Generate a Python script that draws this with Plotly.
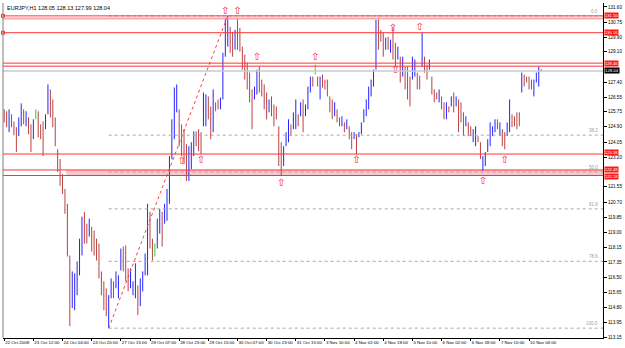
import plotly.graph_objects as go

# ---------------- data ----------------
HIGH = [125.88, 125.77, 125.88, 125.60, 125.21, 124.88, 125.43, 126.21, 125.88, 125.77,
        125.43, 125.04, 125.32, 125.88, 125.77, 125.04, 125.21, 125.60, 127.27, 126.99,
        126.43, 125.43, 123.65, 123.10, 122.27, 121.43, 120.60, 117.71, 116.82, 116.71,
        117.38, 118.65, 119.88, 120.15, 119.49, 119.77, 119.32, 119.10, 118.65, 118.38,
        116.82, 116.27, 115.88, 115.49, 116.43, 116.27, 116.82, 116.60, 118.10, 118.21,
        118.27, 116.99, 116.99, 116.27, 117.27, 116.04, 116.43, 116.82, 117.82, 120.60,
        120.15, 118.65, 118.38, 119.77, 120.32, 120.15, 120.60, 121.43, 123.27, 125.32,
        127.10, 127.27, 125.88, 125.04, 124.77, 123.93, 123.82, 124.04, 124.65, 124.65,
        124.77, 124.60, 126.82, 126.71, 126.60, 126.04, 126.99, 126.27, 126.43, 126.54,
        129.04, 130.99, 131.10, 130.49, 130.21, 130.32, 130.99, 130.43, 129.38, 128.93,
        128.49, 127.93, 126.99, 127.15, 128.10, 128.27, 127.54, 127.27, 126.82, 126.43,
        126.60, 126.15, 126.04, 124.93, 124.04, 123.82, 124.60, 125.32, 125.04, 125.71,
        126.43, 125.60, 126.27, 126.43, 126.15, 127.15, 127.71, 127.71, 128.38, 127.71,
        127.71, 127.82, 127.54, 127.54, 126.60, 126.43, 126.27, 125.88, 125.43, 125.49,
        125.15, 125.32, 124.93, 124.60, 124.60, 124.49, 124.60, 125.15, 125.88, 126.43,
        127.15, 127.54, 128.10, 130.88, 130.99, 130.32, 130.16, 129.88, 129.93, 129.77,
        130.49, 129.60, 129.38, 128.82, 128.82, 128.27, 128.27, 127.71, 128.82, 128.66,
        127.93, 127.76, 130.16, 128.82, 128.38, 128.66, 127.71, 126.99, 126.82, 126.99,
        126.60, 126.27, 126.27, 126.04, 126.60, 126.82, 126.60, 126.43, 126.27, 125.71,
        125.49, 125.15, 124.93, 124.77, 124.93, 124.38, 124.04, 123.27, 123.49, 124.21,
        125.15, 124.93, 125.32, 125.32, 125.15, 124.77, 124.60, 125.15, 126.43, 125.60,
        125.49, 125.71, 125.71, 127.93, 127.82, 127.71, 127.71, 127.54, 127.54, 127.93,
        128.27, 128.13]

LOW = [125.15, 124.88, 124.60, 124.88, 124.43, 123.49, 124.38, 124.93, 125.04, 124.93,
       124.49, 123.49, 124.21, 125.32, 124.32, 124.21, 123.27, 124.77, 125.60, 125.43,
       124.88, 123.82, 122.38, 121.60, 121.15, 120.04, 117.65, 113.77, 114.77, 114.65,
       115.49, 116.60, 117.71, 118.38, 118.38, 118.77, 117.93, 117.71, 117.43, 116.43,
       115.49, 114.65, 114.32, 113.65, 115.32, 115.32, 115.88, 115.32, 116.88, 116.82,
       116.27, 115.71, 115.88, 115.49, 115.32, 114.38, 114.88, 115.71, 116.60, 116.60,
       118.10, 117.43, 117.65, 118.10, 118.93, 118.21, 119.49, 119.65, 120.60, 123.10,
       124.21, 125.71, 123.82, 123.27, 122.82, 121.88, 121.88, 122.54, 123.27, 123.82,
       123.54, 123.38, 124.93, 124.93, 125.32, 124.21, 124.60, 125.77, 125.88, 125.88,
       126.43, 128.82, 129.38, 129.04, 128.82, 129.21, 129.21, 129.10, 128.10, 127.54,
       126.99, 126.27, 124.77, 126.43, 126.71, 126.82, 126.60, 125.88, 125.32, 125.71,
       125.49, 124.93, 125.32, 122.71, 122.15, 122.71, 123.82, 124.04, 124.38, 124.77,
       124.77, 124.93, 125.49, 124.60, 125.49, 125.88, 126.82, 127.15, 127.82, 127.15,
       126.43, 127.10, 126.99, 126.60, 125.71, 125.32, 125.49, 125.15, 124.93, 124.93,
       124.60, 124.77, 124.21, 123.65, 124.21, 123.38, 124.32, 124.49, 125.15, 125.49,
       125.88, 126.60, 127.15, 128.10, 129.21, 129.66, 128.82, 129.21, 129.21, 129.04,
       128.66, 128.27, 128.66, 127.38, 127.71, 126.99, 126.43, 126.04, 127.54, 127.71,
       126.99, 126.99, 128.27, 127.93, 127.54, 128.10, 126.71, 126.27, 126.43, 126.27,
       125.88, 125.32, 125.32, 125.71, 126.04, 125.71, 126.04, 124.60, 125.15, 124.38,
       124.93, 124.38, 124.38, 124.04, 123.82, 124.04, 123.10, 122.43, 122.71, 123.49,
       123.82, 124.38, 124.60, 124.77, 124.38, 123.82, 123.65, 124.38, 124.60, 124.88,
       124.93, 124.77, 124.93, 126.82, 127.15, 127.38, 126.99, 126.99, 126.60, 127.38,
       127.15, 127.99]

# bar colour as seen: u = blue (up), d = red (down), g = green
DIR = ("d d u d d d u u d u d d u g d d d u u d "
       "d d d d d d d d u u u u u d d u d d d d "
       "d d d u u d u u u d d d u u u d u u u u "
       "d d g u u d u u u u u u d d d d u u u d "
       "d d u u d d u d d u u u u d d u d d d d "
       "d d d u u d d d d u d d d d d u u u d u "
       "u d u d u u u d g d u d d d d d u d d u "
       "d u d d u d u u u u u u u u d d d u d u "
       "d d u d u d d d u u d d u d d u d d d u "
       "d d u d u d u d d d u d d u u d d u u u "
       "u u u d u d d u u d d d d u d d d d u u "
       "u d").split()

XTICK_IDX = [0, 12, 24, 36, 48, 60, 72, 84, 96, 108, 120, 132, 144, 156, 168, 180, 192, 204, 216]
XTICK_TEXT = ["22 Oct 2008", "23 Oct 12:00", "24 Oct 04:00", "24 Oct 20:00", "27 Oct 15:00",
              "28 Oct 07:00", "28 Oct 23:00", "29 Oct 15:00", "30 Oct 07:00", "30 Oct 23:00",
              "31 Oct 15:00", "3 Nov 10:00", "4 Nov 02:00", "4 Nov 18:00", "5 Nov 10:00",
              "6 Nov 02:00", "6 Nov 18:00", "7 Nov 10:00", "10 Nov 04:00"]
# visible price labels (those hidden behind the level boxes are left out)
YTICK_VALS = [131.60, 130.75, 129.90, 129.10, 127.40, 126.55, 125.75, 124.90, 124.05, 123.20,
              121.55, 120.70, 119.85, 119.00, 118.15, 117.35, 116.50, 115.65, 114.80,
              113.95, 113.15]

RED_LEVELS = [131.10, 130.16, 128.46, 128.29, 123.38, 122.49, 122.18]
RED_LABEL_LEVELS = [131.10, 130.16, 128.46, 123.38, 122.49, 122.18]
BID = 128.04
TITLE = "EURJPY,H1 128.05 128.13 127.99 128.04"

FIB_LOW_IDX, FIB_LOW = 43, 113.65
FIB_HIGH_IDX, FIB_HIGH = 92, 131.10
FIB_LEVELS = [0.0, 38.2, 50.0, 61.8, 78.6, 100.0]
ZONE_START_IDX = 25.5

ARROW_IDX = [73, 81, 91, 96, 104, 114, 128, 145, 160, 161, 171, 197, 206]
ARROW_PRICE = [122.99, 123.04, 131.32, 131.32, 128.77, 121.71, 128.77, 123.04,
               130.38, 128.04, 130.43, 121.82, 123.04]

# ---------------- figure ----------------
XMIN = -0.5
XMAX = XMIN + 605 / 2.45
YMIN, YMAX = 113.10, 131.82
FONT = "Liberation Sans"

COLORS = {"u": "#2323ff", "d": "#bb4040", "g": "#22dd22"}

fig = go.Figure()
for key, col in COLORS.items():
    xs, ys = [], []
    for i, (h, l, d) in enumerate(zip(HIGH, LOW, DIR)):
        if d == key:
            xs += [i, i, None]
            ys += [l, h, None]
    fig.add_trace(go.Scatter(x=xs, y=ys, mode="lines", line=dict(color=col, width=1),
                             hoverinfo="skip", showlegend=False))

shapes = []
shapes.append(dict(type="rect", xref="x", yref="y", x0=ZONE_START_IDX, x1=XMAX,
                   y0=RED_LEVELS[6], y1=RED_LEVELS[5], fillcolor="#f8c6ce",
                   line=dict(width=0), layer="below"))
shapes.append(dict(type="line", xref="paper", yref="y", x0=0, x1=1,
                   y0=RED_LEVELS[0] - 0.14, y1=RED_LEVELS[0] - 0.14,
                   line=dict(color="#f7a8b2", width=2)))
rng = FIB_HIGH - FIB_LOW
for lv in FIB_LEVELS:
    p = FIB_HIGH - rng * lv / 100.0
    shapes.append(dict(type="line", xref="x", yref="y", x0=FIB_LOW_IDX, x1=XMAX, y0=p, y1=p,
                       line=dict(color="#a9a9a9", width=1, dash="dot")))
shapes.append(dict(type="line", xref="x", yref="y", x0=FIB_LOW_IDX, y0=FIB_LOW,
                   x1=FIB_HIGH_IDX, y1=FIB_HIGH, line=dict(color="#ff3a3a", width=1, dash="dot")))
shapes.append(dict(type="line", xref="paper", yref="y", x0=0, x1=1, y0=BID - 0.02, y1=BID - 0.02,
                   line=dict(color="#c3cbd3", width=1.5)))
for lv in RED_LEVELS:
    shapes.append(dict(type="line", xref="paper", yref="y", x0=0, x1=1, y0=lv, y1=lv,
                       line=dict(color="#ff3333", width=1)))
shapes.append(dict(type="line", xref="paper", yref="paper", x0=0, x1=0, y0=0, y1=1,
                   line=dict(color="#7f7f7f", width=1)))

ann = []
ann.append(dict(xref="paper", yref="paper", x=0.003, y=1.0, xanchor="left", yanchor="top",
                text=TITLE, showarrow=False, font=dict(family=FONT, size=5.5, color="black")))
for lv in FIB_LEVELS:
    p = FIB_HIGH - rng * lv / 100.0
    ann.append(dict(xref="paper", yref="y", x=0.995, y=p, xanchor="right", yanchor="bottom",
                    text=f"{lv:.1f}", showarrow=False,
                    font=dict(family=FONT, size=4.5, color="#9a9a9a")))
LABEL_SHIFT = {123.38: 1.5, 122.49: 0.5, 122.18: -0.5}
for lv in RED_LABEL_LEVELS:
    ann.append(dict(xref="paper", yref="y", x=1.0, y=lv, xanchor="left", yanchor="middle",
                    xshift=1, yshift=LABEL_SHIFT.get(lv, 0), text=f"{lv:.2f}", showarrow=False,
                    bgcolor="#ff1a1a", borderpad=0,
                    font=dict(family=FONT, size=4.1, color="white")))
ann.append(dict(xref="paper", yref="y", x=1.0, y=BID, xanchor="left", yanchor="middle",
                xshift=1, text=f"{BID:.2f}", showarrow=False, bgcolor="black",
                borderpad=0, font=dict(family=FONT, size=4.3, color="white")))

fig.add_trace(go.Scatter(x=ARROW_IDX, y=ARROW_PRICE, mode="text", text=["⇧"] * len(ARROW_IDX),
                         textfont=dict(family="DejaVu Sans", size=10, color="#ff2020"),
                         hoverinfo="skip", showlegend=False))
fig.add_trace(go.Scatter(x=[XMIN, XMIN], y=[RED_LEVELS[0], RED_LEVELS[1]], mode="markers",
                         marker=dict(symbol="square-open", size=3, color="#ff2020", line=dict(width=1)),
                         cliponaxis=False, hoverinfo="skip", showlegend=False))

fig.update_layout(
    width=625, height=348, margin=dict(l=3, r=17, t=3, b=8),
    paper_bgcolor="white", plot_bgcolor="white", showlegend=False, hovermode=False,
    shapes=shapes, annotations=ann,
    xaxis=dict(range=[XMIN, XMAX], showgrid=False, zeroline=False, showline=True,
               linecolor="black", linewidth=1, ticks="outside", ticklen=2, tickcolor="black",
               tickvals=XTICK_IDX, ticktext=XTICK_TEXT, tickangle=0,
               ticklabelposition="outside right",
               tickfont=dict(family=FONT, size=4.4, color="black")),
    yaxis=dict(range=[YMIN, YMAX], side="right", showgrid=False, zeroline=False, showline=True,
               linecolor="black", linewidth=1, ticks="outside", ticklen=3, tickcolor="black",
               tickvals=YTICK_VALS, ticktext=[f"{v:.2f}" for v in YTICK_VALS],
               tickfont=dict(family=FONT, size=4.6, color="black")),
)

fig.write_html("out.html")
